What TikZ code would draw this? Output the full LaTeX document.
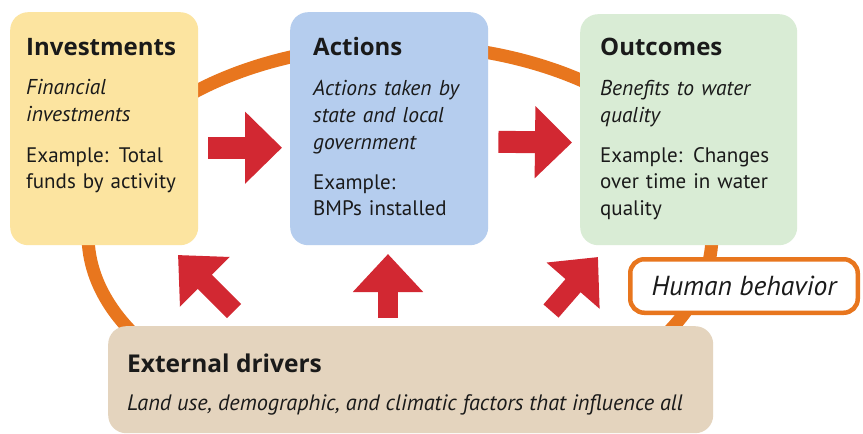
\documentclass[tikz,border=0pt]{standalone}
\usepackage{fontspec}
\setmainfont{PT Sans}
\newfontfamily\ttlfont{Open Sans}
\usetikzlibrary{arrows.meta}
\definecolor{invfill}{HTML}{FCE4A0}
\definecolor{actfill}{HTML}{B5CDEE}
\definecolor{outfill}{HTML}{D9ECD5}
\definecolor{extfill}{HTML}{E4D4BE}
\definecolor{redarr}{HTML}{D22832}
\definecolor{ringor}{HTML}{E8761E}
\definecolor{txt}{HTML}{1A1A1A}
\begin{document}
\begin{tikzpicture}[x=1pt,y=-1pt,
  box/.style={rounded corners=18pt, inner sep=0pt, anchor=north west},
  ttl/.style={anchor=base west, inner sep=0pt, text=txt, font=\ttlfont\bfseries\fontsize{24}{27}\selectfont},
  desc/.style={anchor=base west, inner sep=0pt, text=txt, text width=240pt, align=left, font=\itshape\fontsize{21.5}{27}\selectfont},
  ex/.style={anchor=base west, inner sep=0pt, text=txt, text width=240pt, align=left, font=\fontsize{21}{26.5}\selectfont},
  ring/.style={ringor, line width=13pt},
  hbox/.style={draw=ringor, line width=4.5pt, fill=white, rounded corners=14pt, inner sep=0pt, text=txt, font=\itshape\fontsize{27.5}{30}\selectfont},
  hzarrow/.style={redarr, line width=22pt, -{Triangle[width=70pt,length=37pt]}},
  uparrow/.style={redarr, line width=20pt, -{Triangle[width=68pt,length=38pt]}}
]
\fill[white] (0,0) rectangle (863,434);
\useasboundingbox (0,0) rectangle (863,434);

% background ring
\draw[ring] (400,235) ellipse [x radius=312pt, y radius=190pt];

% boxes
\node[box, fill=invfill, minimum width=188pt, minimum height=233pt] (inv) at (10,12) {};
\node[box, fill=actfill, minimum width=198pt, minimum height=233pt] (act) at (290,12) {};
\node[box, fill=outfill, minimum width=217pt, minimum height=231pt] (out) at (580,14) {};
\node[box, fill=extfill, minimum width=605pt, minimum height=107pt] (ext) at (108,326) {};
\node[hbox, minimum width=227.5pt, minimum height=53.5pt] (hb) at (744,286) {Human behavior};

% red arrows between boxes
\draw[hzarrow, shorten <=10pt, shorten >=8pt] ([yshift=-19pt]inv.east) -- ([yshift=-19pt]act.west);
\draw[hzarrow, shorten <=10pt, shorten >=8pt] ([yshift=-13pt]act.east) -- ([yshift=-13pt]out.west);

% red arrows from external drivers
\coordinate (ltail) at (234,311);
\coordinate (ltip) at (178,255);
\coordinate (mtail) at (388,318);
\coordinate (mtip) at (388,254);
\coordinate (rtail) at (551,311);
\coordinate (rtip) at (598,257);
\draw[uparrow] (ltail) -- (ltip);
\draw[uparrow] (mtail) -- (mtip);
\draw[uparrow] (rtail) -- (rtip);

% texts
\node[ttl] (invT) at (26,55) {Investments};
\node[desc] (invD) at (26,94) {Financial\\investments};
\node[ex] (invE) at (26,162) {Example: Total\\funds by activity};

\node[ttl] (actT) at (313,55) {Actions};
\node[desc] (actD) at (313,95) {Actions taken by\\state and local\\government};
\node[ex] (actE) at (313,189) {Example:\\BMPs installed};

\node[ttl] (outT) at (600,55) {Outcomes};
\node[desc] (outD) at (600,95) {Benefits to water\\quality};
\node[ex] (outE) at (600,162) {Example: Changes\\over time in water\\quality};

\node[ttl, font=\ttlfont\bfseries\fontsize{24.5}{27}\selectfont] (extT) at (127,372) {External drivers};
\node[anchor=base west, inner sep=0pt, text=txt, font=\itshape\fontsize{22.3}{24}\selectfont] (extD) at (127,410) {Land use, demographic, and climatic factors that influence all};
\end{tikzpicture}
\end{document}
